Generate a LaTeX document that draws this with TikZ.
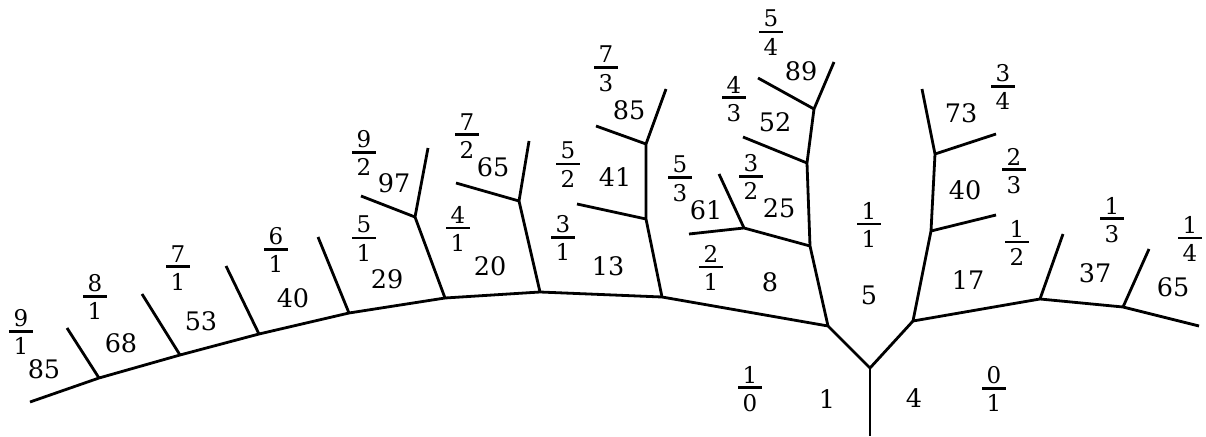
\documentclass[tikz,border=0pt]{standalone}
\usepackage{fontspec}
\setmainfont{DejaVu Serif}
\newcommand\fr[2]{\vbox{\offinterlineskip\hbox to 24pt{\hss #1\hss}\kern 3.3pt\hrule height 2.8pt\kern 5.4pt\hbox to 24pt{\hss #2\hss}}}
\begin{document}
\begin{tikzpicture}[x=1pt,y=-1pt,
  tree/.style={line width=2.8pt},
  num/.style={font=\fontsize{25.5}{25.5}\selectfont, inner sep=0pt},
  frc/.style={font=\fontsize{23}{23}\selectfont, inner sep=0pt}]
\useasboundingbox (0,0) rectangle (1206,436);
% main curve
\coordinate (m0) at (30,402);
\coordinate (m1) at (99,378);
\coordinate (m2) at (180,355);
\coordinate (m3) at (259,334);
\coordinate (m4) at (349,313);
\coordinate (m5) at (445,298);
\coordinate (m6) at (540,292);
\coordinate (m7) at (662,297);
\coordinate (L) at (828,326);
\coordinate (root) at (870,368);
\coordinate (bot) at (870,436);
\coordinate (R) at (913,321);
\coordinate (r1) at (1040,299);
\coordinate (r2) at (1123,307);
\coordinate (r3) at (1199,326);
% left branches
\coordinate (t1) at (67,328);
\coordinate (t2) at (142,294);
\coordinate (t3) at (226,266);
\coordinate (t4) at (318,237);
\coordinate (a1) at (415,217);
\coordinate (a2) at (361,196);
\coordinate (a3) at (428,148);
\coordinate (b1) at (519,201);
\coordinate (b2) at (456,183);
\coordinate (b3) at (529,141);
\coordinate (c1) at (646,219);
\coordinate (c2) at (577,204);
\coordinate (c3) at (646,144);
\coordinate (c4) at (596,126);
\coordinate (c5) at (666,89);
\coordinate (d1) at (810,246);
\coordinate (d2) at (744,228);
\coordinate (d3) at (689,234);
\coordinate (d4) at (719,174);
\coordinate (d5) at (807,163);
\coordinate (d6) at (743,137);
\coordinate (d7) at (814,109);
\coordinate (d8) at (758,78);
\coordinate (d9) at (834,62);
% right branches
\coordinate (e1) at (931,231);
\coordinate (e2) at (996,215);
\coordinate (e3) at (935,154);
\coordinate (e4) at (996,134);
\coordinate (e5) at (922,89);
\coordinate (s1) at (1063,234);
\coordinate (s2) at (1149,249);

\draw[tree] (m0) -- (m1) -- (m2) -- (m3) -- (m4) -- (m5) -- (m6) -- (m7) -- (L) -- (root) -- (R) -- (r1) -- (r2) -- (r3);
\draw[tree] (root) -- (bot);
\draw[tree] (m1) -- (t1);
\draw[tree] (m2) -- (t2);
\draw[tree] (m3) -- (t3);
\draw[tree] (m4) -- (t4);
\draw[tree] (m5) -- (a1) -- (a3);
\draw[tree] (a1) -- (a2);
\draw[tree] (m6) -- (b1) -- (b3);
\draw[tree] (b1) -- (b2);
\draw[tree] (m7) -- (c1) -- (c3) -- (c5);
\draw[tree] (c1) -- (c2);
\draw[tree] (c3) -- (c4);
\draw[tree] (L) -- (d1) -- (d5) -- (d7) -- (d9);
\draw[tree] (d1) -- (d2) -- (d3);
\draw[tree] (d2) -- (d4);
\draw[tree] (d5) -- (d6);
\draw[tree] (d7) -- (d8);
\draw[tree] (R) -- (e1) -- (e3) -- (e5);
\draw[tree] (e1) -- (e2);
\draw[tree] (e3) -- (e4);
\draw[tree] (r1) -- (s1);
\draw[tree] (r2) -- (s2);

% numbers
\node[num] (n85a) at (44,369) {85};
\node[num] (n68) at (121,343) {68};
\node[num] (n53) at (201,321) {53};
\node[num] (n40a) at (293,298) {40};
\node[num] (n29) at (387,279) {29};
\node[num] (n97) at (394,183) {97};
\node[num] (n20) at (490,266) {20};
\node[num] (n65a) at (493,167) {65};
\node[num] (n13) at (608,266) {13};
\node[num] (n41) at (615,177) {41};
\node[num] (n85b) at (629,110) {85};
\node[num] (n61) at (706,210) {61};
\node[num] (n25) at (779,208) {25};
\node[num] (n52) at (775,122) {52};
\node[num] (n89) at (801,71) {89};
\node[num] (n8) at (770,282) {8};
\node[num] (n5) at (869,295) {5};
\node[num] (n1) at (827,399) {1};
\node[num] (n4) at (914,398) {4};
\node[num] (n17) at (968,280) {17};
\node[num] (n40b) at (965,190) {40};
\node[num] (n73) at (961,113) {73};
\node[num] (n37) at (1095,273) {37};
\node[num] (n65b) at (1173,287) {65};

% fractions
\node[frc] (f91) at (21,332) {\fr{9}{1}};
\node[frc] (f81) at (95,297) {\fr{8}{1}};
\node[frc] (f71) at (178,268) {\fr{7}{1}};
\node[frc] (f61) at (276,250) {\fr{6}{1}};
\node[frc] (f51) at (364,239) {\fr{5}{1}};
\node[frc] (f92) at (364,153) {\fr{9}{2}};
\node[frc] (f41) at (458,229) {\fr{4}{1}};
\node[frc] (f72) at (467,136) {\fr{7}{2}};
\node[frc] (f52) at (568,165) {\fr{5}{2}};
\node[frc] (f31) at (563,238) {\fr{3}{1}};
\node[frc] (f73) at (606,69) {\fr{7}{3}};
\node[frc] (f53) at (680,179) {\fr{5}{3}};
\node[frc] (f21) at (711,268) {\fr{2}{1}};
\node[frc] (f32) at (751,177) {\fr{3}{2}};
\node[frc] (f43) at (734,99) {\fr{4}{3}};
\node[frc] (f54) at (771,33) {\fr{5}{4}};
\node[frc] (f11) at (869,225) {\fr{1}{1}};
\node[frc] (f10) at (750,389) {\fr{1}{0}};
\node[frc] (f01) at (994,389) {\fr{0}{1}};
\node[frc] (f34) at (1003,87) {\fr{3}{4}};
\node[frc] (f23) at (1014,171) {\fr{2}{3}};
\node[frc] (f12) at (1017,243) {\fr{1}{2}};
\node[frc] (f13) at (1112,220) {\fr{1}{3}};
\node[frc] (f14) at (1190,239) {\fr{1}{4}};
\end{tikzpicture}
\end{document}
